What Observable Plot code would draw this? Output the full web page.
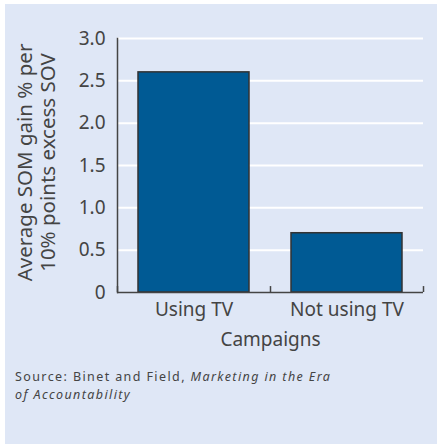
<!DOCTYPE html>
<html>
<head>
<meta charset="utf-8">
<script src="https://cdn.jsdelivr.net/npm/d3@7"></script>
<script src="https://cdn.jsdelivr.net/npm/@observablehq/plot@0.6"></script>
<style>
  html, body { margin: 0; padding: 0; background: #ffffff; }
  #panel { position: absolute; left: 5px; top: 4px; width: 432px; height: 440px; background: #dfe7f6; }
  #chart svg { display: block; }
  #caption { position: absolute; left: 10px; top: 364px; font-family: "Noto Sans", sans-serif; font-size: 12.5px; letter-spacing: 1.4px; line-height: 18px; color: #444; }
</style>
</head>
<body>
<div id="panel">
  <div id="chart"></div>
  <div id="caption">Source: Binet and Field, <i>Marketing in the Era<br>of Accountability</i></div>
</div>
<script>
const categories = ["Using TV", "Not using TV"];
const values = [2.6, 0.7];
const yTicks = [0, 0.5, 1, 1.5, 2, 2.5, 3];
const yTickLabels = ["0", "0.5", "1.0", "1.5", "2.0", "2.5", "3.0"];
const yTitle = "Average SOM gain % per\n10% points excess SOV";
const xTitle = "Campaigns";

const data = categories.map((c, i) => ({category: c, value: values[i]}));
const W = 432, ML = 112, MR = 14;
const step = (W - ML - MR) / categories.length;

const chart = Plot.plot({
  width: W,
  height: 352,
  marginLeft: ML,
  marginRight: MR,
  marginTop: 34,
  marginBottom: 64,
  style: {background: "transparent", fontFamily: "Noto Sans", fontSize: "19px", color: "#444", overflow: "visible"},
  x: {domain: categories, padding: 0, label: null},
  y: {domain: [0, 3], label: null},
  marks: [
    Plot.ruleY(yTicks.filter(d => d > 0), {stroke: "white", strokeWidth: 2}),
    Plot.barY(data, {x: "category", y: "value", fill: "#005a94", stroke: "#333", strokeWidth: 1.5, insetLeft: 21, insetRight: 21}),
    Plot.axisY({ticks: yTicks, tickSize: 0, tickPadding: 12, tickFormat: (d, i) => yTickLabels[yTicks.indexOf(d)], fontSize: 19, fill: "#444", label: null}),
    Plot.axisX({tickSize: 0, tickPadding: 10, fontSize: 19, fill: "#444", label: null}),
    Plot.frame({anchor: "left", stroke: "#444", strokeWidth: 1.5}),
    Plot.ruleY([0], {stroke: "#444", strokeWidth: 1.5}),
    Plot.ruleX(categories, {x: d => d, y1: 0, y2: 0.07, dx: -step / 2, stroke: "#444", strokeWidth: 1.5}),
    Plot.ruleX(categories.slice(-1), {x: d => d, y1: 0, y2: 0.07, dx: step / 2, stroke: "#444", strokeWidth: 1.5}),
    Plot.text([xTitle], {frameAnchor: "bottom", dy: 53, fontSize: 19, fill: "#444"}),
    Plot.text([yTitle], {frameAnchor: "left", textAnchor: "middle", rotate: -90, dx: -81, dy: -3, lineHeight: 1.1, fontSize: 20.5, fill: "#444"})
  ]
});
document.getElementById("chart").appendChild(chart);
</script>
</body>
</html>
